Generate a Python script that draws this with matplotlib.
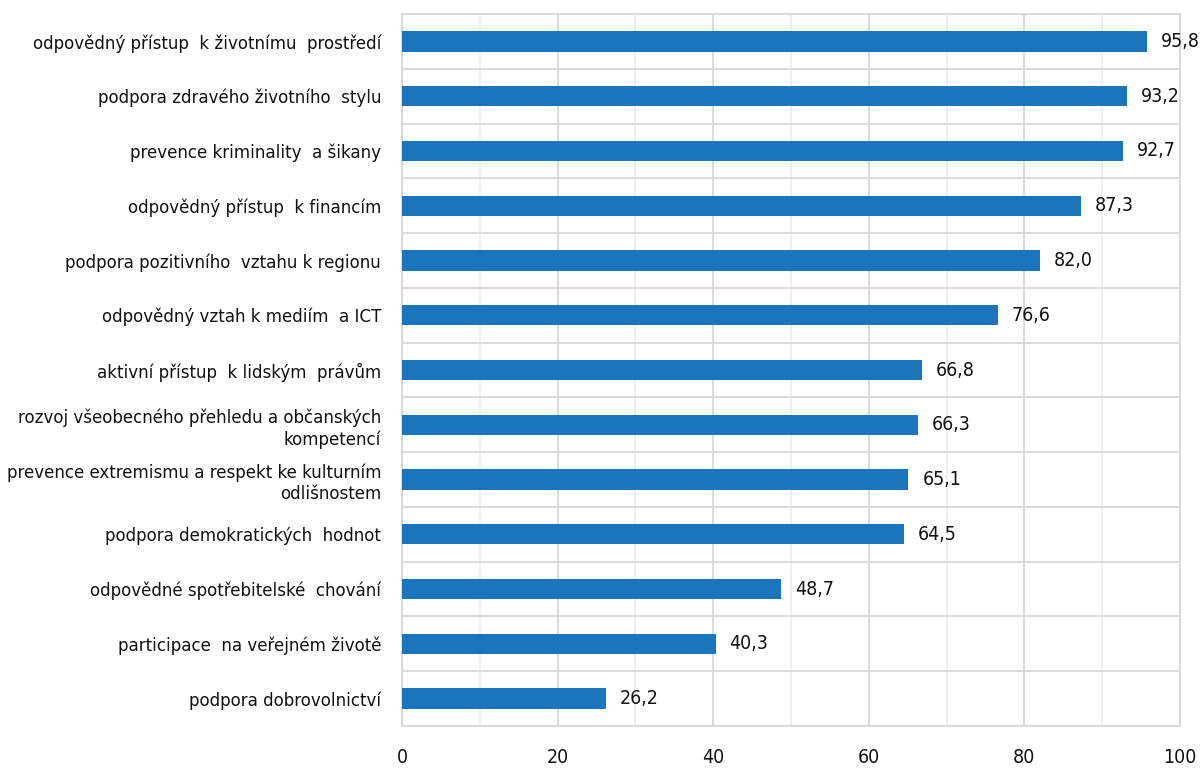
import numpy as np
import matplotlib.pyplot as plt
from matplotlib import font_manager
from matplotlib.ticker import MultipleLocator

# narrow font if there is one, else condensed DejaVu
names = {f.name for f in font_manager.fontManager.ttflist}
if 'Liberation Sans Narrow' in names:
    plt.rcParams['font.family'] = ['Liberation Sans Narrow', 'DejaVu Sans']
    fs, fs_lab = 16.5, 16
else:
    plt.rcParams['font.family'] = ['DejaVu Sans']
    plt.rcParams['font.stretch'] = 'condensed'
    fs, fs_lab = 14, 13.3

# data, top to bottom as in the chart
labels = [
    'odpovědný přístup  k životnímu  prostředí',
    'podpora zdravého životního  stylu',
    'prevence kriminality  a šikany',
    'odpovědný přístup  k financím',
    'podpora pozitivního  vztahu k regionu',
    'odpovědný vztah k mediím  a ICT',
    'aktivní přístup  k lidským  právům',
    'rozvoj všeobecného přehledu a občanských\nkompetencí',
    'prevence extremismu a respekt ke kulturním\nodlišnostem',
    'podpora demokratických  hodnot',
    'odpovědné spotřebitelské  chování',
    'participace  na veřejném životě',
    'podpora dobrovolnictví',
]
values = [95.8, 93.2, 92.7, 87.3, 82.0, 76.6, 66.8, 66.3, 65.1, 64.5, 48.7, 40.3, 26.2]

fig = plt.figure(figsize=(12.02, 7.71), dpi=100)
ax = fig.add_axes([402/1202, 1 - 726/771, 778/1202, 712/771])

y = np.arange(len(values))
ax.barh(y, values, height=0.37, color='#1b75bc', zorder=3)

for yi, v in zip(y, values):
    ax.text(v + 1.8, yi, f'{v:.1f}'.replace('.', ','), va='center', ha='left',
            fontsize=fs, color='#111111', zorder=4)

ax.set_xlim(0, 100)
ax.set_ylim(len(values) - 0.5, -0.5)
ax.xaxis.set_major_locator(MultipleLocator(20))
ax.xaxis.set_minor_locator(MultipleLocator(10))
ax.set_yticks(y)
ax.set_yticklabels(labels, fontsize=fs_lab, color='#111111', ha='right', linespacing=1.25)
ax.set_yticks(np.arange(len(values) + 1) - 0.5, minor=True)

ax.grid(which='major', axis='x', color='#d6d6d6', lw=1.2, zorder=0)
ax.grid(which='minor', axis='x', color='#ececec', lw=1.2, zorder=0)
ax.grid(which='minor', axis='y', color='#d6d6d6', lw=1.2, zorder=0)
ax.tick_params(which='both', length=0)
ax.tick_params(axis='y', pad=15)
ax.tick_params(axis='x', pad=16, labelsize=fs, labelcolor='#111111')

for s in ax.spines.values():
    s.set_color('#d6d6d6')
    s.set_linewidth(1.2)
    s.set_zorder(1)

fig.savefig('out.png', dpi=100)
